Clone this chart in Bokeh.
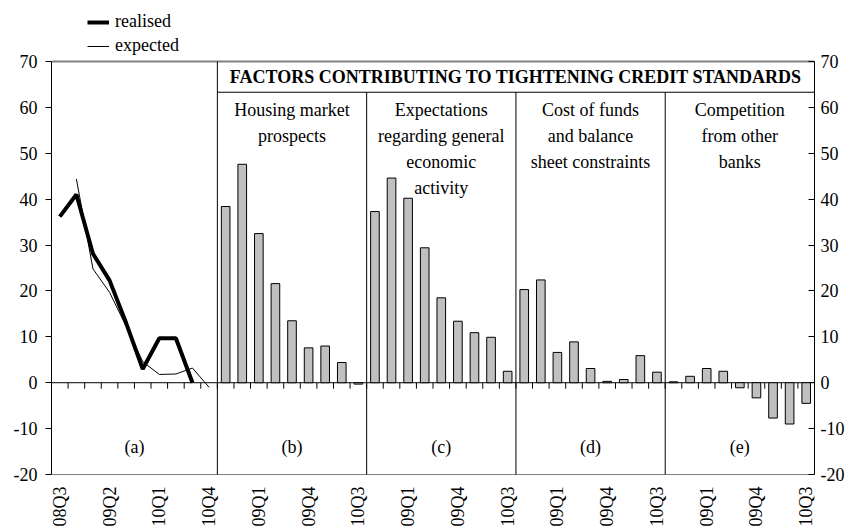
import numpy as np
from bokeh.plotting import figure
from bokeh.models import (Range1d, LinearAxis, FixedTicker, ColumnDataSource,
                          LabelSet)
from bokeh.core.properties import value
from bokeh.embed import file_html
from bokeh.resources import INLINE

# ---------------- data ----------------
quarters_a = ["2008Q3", "2008Q4", "2009Q1", "2009Q2", "2009Q3",
              "2009Q4", "2010Q1", "2010Q2", "2010Q3", "2010Q4"]
quarters_bars = ["2008Q3", "2008Q4", "2009Q1", "2009Q2", "2009Q3",
                 "2009Q4", "2010Q1", "2010Q2", "2010Q3"]
realised = [36.2, 41.0, 28.1, 22.3, 13.0, 3.0, 9.7, 9.7, 0.0, None]
expected = [None, 44.4, 24.8, 19.7, 12.3, 4.6, 1.8, 1.9, 3.2, -1.0]
housing = [38.4, 47.6, 32.5, 21.6, 13.5, 7.6, 8.0, 4.4, -0.3]
economic = [37.3, 44.6, 40.2, 29.4, 18.5, 13.4, 10.9, 9.9, 2.5]
cost_funds = [20.3, 22.4, 6.6, 8.9, 3.1, 0.3, 0.7, 5.9, 2.3]
competition = [0.2, 1.4, 3.1, 2.5, -1.1, -3.3, -7.7, -9.0, -4.5]
panel_titles = ["Housing market\nprospects",
                "Expectations\nregarding general\neconomic\nactivity",
                "Cost of funds\nand balance\nsheet constraints",
                "Competition\nfrom other\nbanks"]
panel_letters = ["(a)", "(b)", "(c)", "(d)", "(e)"]
header = "FACTORS CONTRIBUTING TO TIGHTENING CREDIT STANDARDS"
y_ticks = [-20, -10, 0, 10, 20, 30, 40, 50, 60, 70]
label_every = 3

# ---------------- derived layout ----------------
FONT = value("Liberation Serif")
bar_series = [housing, economic, cost_funds, competition]
all_labels = quarters_a + quarters_bars * len(bar_series)
n = len(all_labels)
starts = [0]
for s in [quarters_a] + [quarters_bars] * len(bar_series):
    starts.append(starts[-1] + len(s))
ends = starts[1:]
starts = starts[:-1]

W, H = 853, 527
plot_top, plot_bottom = 61, 474          # pixel rows of 70 and -20
ymin, ymax = y_ticks[0], y_ticks[-1]
px_per_unit = (plot_bottom - plot_top) / (ymax - ymin)
view_top = ymax + plot_top / px_per_unit
view_bottom = ymin - (H - plot_bottom) / px_per_unit
header_line_y = 63.3

p = figure(width=W, height=H, output_backend="svg", toolbar_location=None,
           x_range=Range1d(0, n), y_range=Range1d(view_bottom, view_top),
           x_axis_location=None, y_axis_location="left",
           min_border_left=51, min_border_right=39, min_border_top=0,
           min_border_bottom=0)
p.xgrid.visible = False
p.ygrid.visible = False
p.outline_line_color = None
p.background_fill_color = "white"
p.border_fill_color = "white"

# y axes
right_axis = LinearAxis()
p.add_layout(right_axis, "right")
overrides = {t: str(t) for t in y_ticks}
for ax, tin, tout, standoff in [(p.yaxis[0], 0, 6, 8), (right_axis, 6, 0, 6)]:
    ax.ticker = FixedTicker(ticks=y_ticks)
    ax.major_label_overrides = overrides
    ax.bounds = (ymin, ymax)
    ax.major_tick_in = tin
    ax.major_tick_out = tout
    ax.minor_tick_line_color = None
    ax.axis_line_color = "black"
    ax.major_tick_line_color = "black"
    ax.major_label_text_font = "Liberation Serif"
    ax.major_label_text_font_size = "18px"
    ax.major_label_text_color = "black"
    ax.major_label_standoff = standoff

# plot-area border (top / bottom)
p.segment(x0=[0, 0], y0=[ymax, ymin], x1=[n, n], y1=[ymax, ymin],
          line_color="#808080", line_width=[2, 1])

# zero line and category ticks
p.segment(x0=[0], y0=[0], x1=[n], y1=[0], line_color="black", line_width=1)
tick_x = list(range(1, n))
p.segment(x0=tick_x, y0=[0] * len(tick_x), x1=tick_x, y1=[-1.3] * len(tick_x),
          line_color="black", line_width=1)

# bars
bx, btop = [], []
for k, series in enumerate(bar_series):
    for i, v in enumerate(series):
        bx.append(starts[k + 1] + i + 0.5)
        btop.append(v)
p.vbar(x=bx, top=btop, bottom=0, width=0.52, fill_color="#C0C0C0",
       line_color="black", line_width=1)

# lines (panel a)
xa = np.arange(len(quarters_a)) + 0.5
r_y = np.array([np.nan if v is None else v for v in realised])
e_y = np.array([np.nan if v is None else v for v in expected])
p.line(xa, r_y, line_color="black", line_width=4, legend_label="realised")
p.line(xa, e_y, line_color="black", line_width=1, legend_label="expected")

# separators and header underline
sep_x = starts[1:]
sep_top = [ymax] + [header_line_y] * (len(sep_x) - 1)
p.segment(x0=sep_x, y0=sep_top, x1=sep_x, y1=[ymin] * len(sep_x),
          line_color="black", line_width=1)
p.segment(x0=[starts[1]], y0=[header_line_y], x1=[n], y1=[header_line_y],
          line_color="black", line_width=1)

# header text
p.text(x=[(starts[1] + n) / 2], y=[66.6], text=[header], text_font=FONT,
       text_font_size="18px", text_font_style="bold", text_align="center",
       text_baseline="middle", text_color="black")

# panel titles
p.text(x=[(s + e) / 2 for s, e in zip(starts[1:], ends[1:])],
       y=[61.6] * len(panel_titles), text=panel_titles, text_font=FONT,
       text_font_size="18px", text_align="center", text_baseline="top",
       text_line_height=1.3, text_color="black")

# panel letters
p.text(x=[(s + e) / 2 for s, e in zip(starts, ends)], y=[-14] * len(panel_letters),
       text=panel_letters, text_font=FONT, text_font_size="18px",
       text_align="center", text_baseline="middle", text_color="black")

# x tick labels (run off the bottom edge, as in the source)
idx = list(range(0, n, label_every))
lab_src = ColumnDataSource(dict(x=[i + 0.5 for i in idx],
                                y=[ymin] * len(idx),
                                text=[all_labels[i] for i in idx]))
p.add_layout(LabelSet(x="x", y="y", text="text", source=lab_src, angle=np.pi / 2,
                      y_offset=-12, text_align="right", text_baseline="middle",
                      text_font=FONT, text_font_size="18px", text_color="black"))

# legend
lg = p.legend[0]
lg.location = (36, H - 56)
lg.border_line_color = None
lg.background_fill_alpha = 0
lg.padding = 0
lg.margin = 0
lg.spacing = 3
lg.glyph_width = 22
lg.glyph_height = 20
lg.label_height = 20
lg.label_standoff = 6
lg.label_text_font = "Liberation Serif"
lg.label_text_font_size = "18px"
lg.label_text_color = "black"

open("out.html", "w").write(file_html(p, INLINE))
